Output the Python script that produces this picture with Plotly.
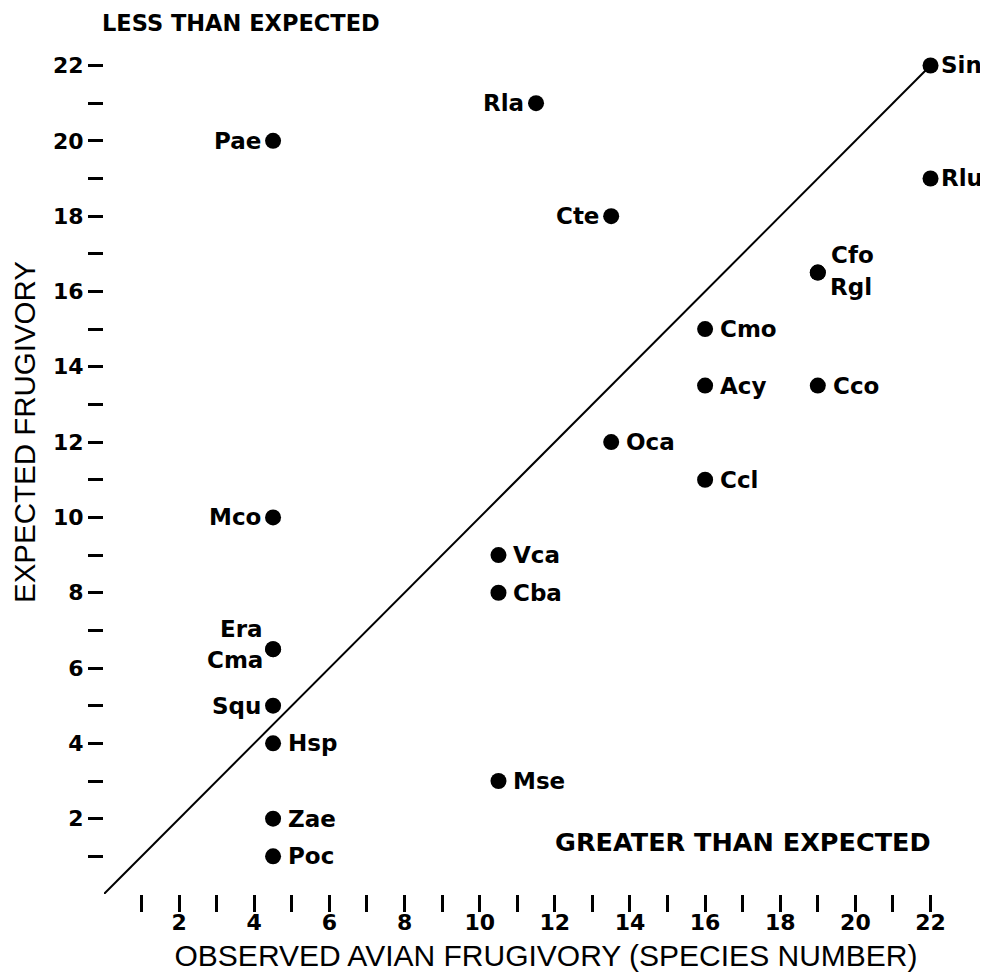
import plotly.graph_objects as go

# Species codes, observed (x) and expected (y) frugivory
species = ["Sin", "Rla", "Pae", "Rlu", "Cte", "Cfo", "Rgl", "Cmo", "Acy", "Cco",
           "Oca", "Ccl", "Mco", "Vca", "Cba", "Era", "Cma", "Squ", "Hsp", "Mse",
           "Zae", "Poc"]
observed = [22, 11.5, 4.5, 22, 13.5, 19, 19, 16, 16, 19,
            13.5, 16, 4.5, 10.5, 10.5, 4.5, 4.5, 4.5, 4.5, 10.5,
            4.5, 4.5]
expected = [22, 21, 20, 19, 18, 16.5, 16.5, 15, 13.5, 13.5,
            12, 11, 10, 9, 8, 6.5, 6.5, 5, 4, 3,
            2, 1]
# which side of its dot each code is written on
label_side = ["RE", "L", "L", "RE", "L", "RU", "RD", "R", "R", "R",
              "R", "R", "L", "R", "R", "LU", "LD", "L", "R", "R",
              "R", "R"]

# 1:1 reference line (expected = observed)
line_x = [0, 22]
line_y = [0, 22]

tick_values = list(range(1, 23))
tick_labels = [str(v) if v % 2 == 0 else "" for v in tick_values]

x_title = "OBSERVED AVIAN FRUGIVORY (SPECIES NUMBER)"
y_title = "EXPECTED FRUGIVORY"
upper_note = "LESS THAN EXPECTED"
lower_note = "GREATER THAN EXPECTED"

BOLD = "DejaVu Sans"
PLAIN = "Liberation Sans, Arial, sans-serif"

# placement styles for the labels: (xanchor, xshift, yshift)
PLACE = {
    "R": ("left", 13, 0),
    "RE": ("left", 8, 0),
    "L": ("right", -10, 0),
    "RU": ("left", 11, 18),
    "RD": ("left", 10, -14),
    "LU": ("right", -8, 20),
    "LD": ("right", -8, -11),
}

fig = go.Figure()
fig.add_trace(go.Scatter(
    x=line_x, y=line_y, mode="lines",
    line=dict(color="black", width=2), hoverinfo="skip", showlegend=False,
    cliponaxis=False,
))
fig.add_trace(go.Scatter(
    x=observed, y=expected, mode="markers", text=species,
    marker=dict(color="black", size=16),
    cliponaxis=False, showlegend=False,
))

annotations = []
for name, xv, yv, side in zip(species, observed, expected, label_side):
    xa, dx, dy = PLACE[side]
    annotations.append(dict(
        text=name, x=xv, y=yv, xref="x", yref="y", showarrow=False,
        xanchor=xa, yanchor="middle", xshift=dx, yshift=dy,
        font=dict(family=BOLD, size=23, color="black", weight="bold"),
    ))

annotations += [
    dict(text=upper_note, xref="paper", yref="paper", x=-0.004, y=0.9847,
         xanchor="left", yanchor="middle", showarrow=False,
         font=dict(family=BOLD, size=22.5, color="black", weight="bold")),
    dict(text=lower_note, xref="paper", yref="paper", x=0.508, y=0.0585,
         xanchor="left", yanchor="middle", showarrow=False,
         font=dict(family=BOLD, size=25.5, color="black", weight="bold")),
    dict(text=y_title, xref="paper", yref="paper", x=-0.0905, y=0.522,
         xanchor="center", yanchor="middle", showarrow=False, textangle=-90,
         font=dict(family=PLAIN, size=29.5, color="black")),
]

axis_common = dict(
    tickmode="array", tickvals=tick_values, ticktext=tick_labels,
    ticks="outside", tickcolor="black", tickwidth=3,
    showgrid=False, zeroline=False, showline=False, automargin=False,
    tickfont=dict(family=BOLD, size=22, color="black", weight="bold"),
)

# the page body adds an 8 px offset, so the figure is 8 px smaller than the window
fig.update_layout(
    width=980, height=964,
    margin=dict(l=96, r=0, t=1, b=78),
    paper_bgcolor="white", plot_bgcolor="white",
    xaxis=dict(range=[0, 23.53], ticklen=17, ticklabelstandoff=-8,
               title=dict(text=x_title, font=dict(family=PLAIN, size=30, color="black"), standoff=13),
               **axis_common),
    yaxis=dict(range=[0, 23.5], ticklen=15, **axis_common),
    annotations=annotations,
)

fig.write_html("out.html")
